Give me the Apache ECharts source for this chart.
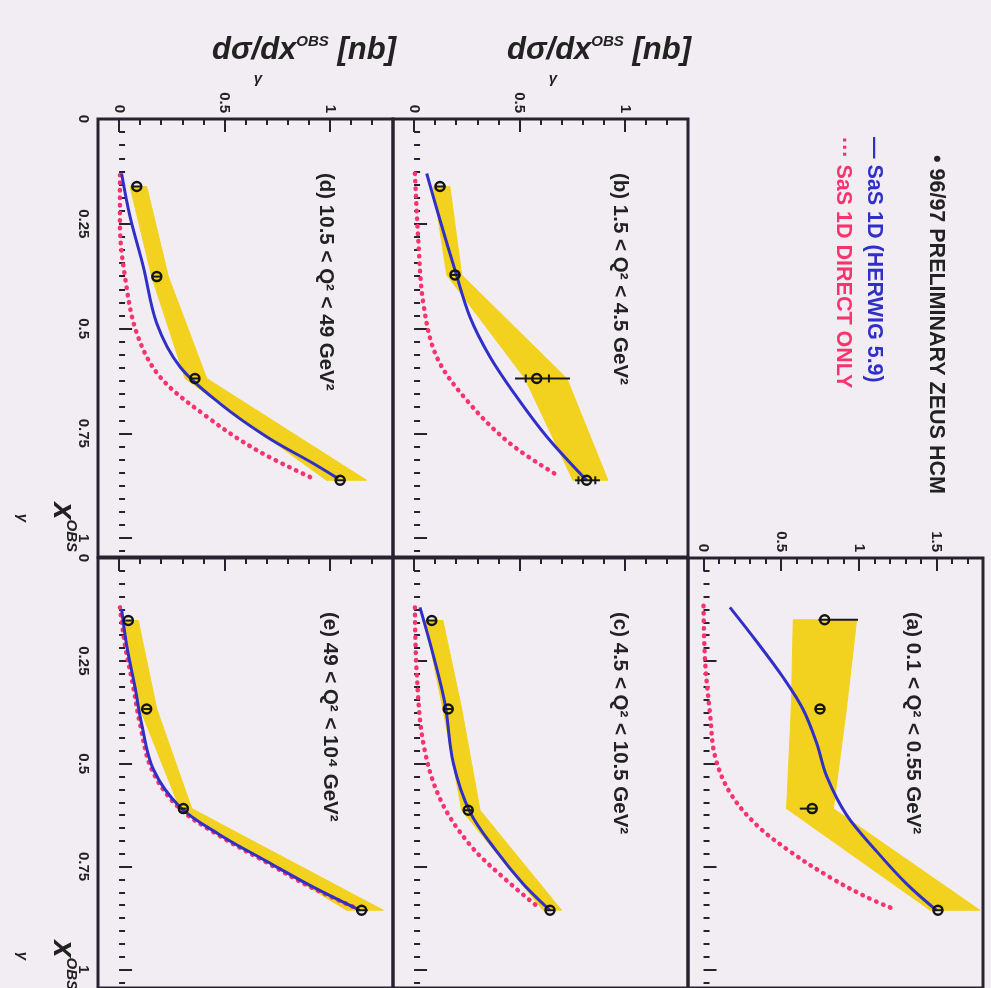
<!DOCTYPE html>
<html><head><meta charset="utf-8">
<script src="https://cdn.jsdelivr.net/npm/echarts@6/dist/echarts.min.js"></script>
<style>html,body{margin:0;padding:0;background:#f2edf3}#c{width:991px;height:988px}</style>
</head><body><div id="c"></div>
<script>
// ---------- data (x_gamma^OBS positions, dsigma/dx values in nb) ----------
// panel (a) 0.1 < Q2 < 0.55
const aXg = [0.150, 0.367, 0.609, 0.856];
const aVal = [0.78, 0.75, 0.70, 1.51];
const aErrLo = [0.74, 0.72, 0.62, 1.48];
const aErrHi = [0.995, 0.78, 0.73, 1.54];
const aSysLo = [0.578, 0.565, 0.535, 1.46];
const aSysHi = [0.986, 0.92, 0.836, 1.78];
const aHerXg = [0.12, 0.203, 0.291, 0.367, 0.45, 0.53, 0.625, 0.713, 0.792, 0.856];
const aHer = [0.17, 0.342, 0.514, 0.64, 0.729, 0.793, 0.922, 1.115, 1.308, 1.50];
const aDirXg = [0.116, 0.251, 0.379, 0.482, 0.57, 0.649, 0.713, 0.776, 0.824, 0.856];
const aDir = [0.0, 0.01, 0.042, 0.074, 0.17, 0.342, 0.557, 0.814, 1.05, 1.244];
// panel (b) 1.5 < Q2 < 4.5
const bXg = [0.161, 0.372, 0.619, 0.862];
const bVal = [0.123, 0.194, 0.582, 0.819];
const bErrLo = [0.10, 0.17, 0.479, 0.764];
const bErrHi = [0.15, 0.22, 0.74, 0.882];
const bStatLo = [null, null, 0.53, 0.78];
const bStatHi = [null, null, 0.64, 0.86];
const bSysLo = [0.091, 0.155, 0.526, 0.754];
const bSysHi = [0.17, 0.226, 0.725, 0.92];
const bHerXg = [0.13, 0.241, 0.36, 0.472, 0.567, 0.663, 0.758, 0.862];
const bHer = [0.06, 0.123, 0.194, 0.265, 0.36, 0.487, 0.63, 0.819];
const bDirXg = [0.13, 0.289, 0.44, 0.567, 0.671, 0.774, 0.854];
const bDir = [0.004, 0.02, 0.044, 0.107, 0.25, 0.455, 0.693];
// panel (c) 4.5 < Q2 < 10.5
const cXg = [0.152, 0.367, 0.613, 0.856];
const cVal = [0.084, 0.162, 0.257, 0.645];
const cErrLo = [0.065, 0.145, 0.24, 0.625];
const cErrHi = [0.10, 0.18, 0.275, 0.665];
const cSysLo = [0.052, 0.137, 0.226, 0.612];
const cSysHi = [0.137, 0.226, 0.313, 0.70];
const cHerXg = [0.12, 0.236, 0.355, 0.498, 0.617, 0.713, 0.792, 0.856];
const cHer = [0.028, 0.091, 0.147, 0.186, 0.265, 0.392, 0.518, 0.645];
const cDirXg = [0.12, 0.275, 0.45, 0.585, 0.697, 0.784, 0.852];
const cDir = [0.004, 0.012, 0.044, 0.123, 0.265, 0.44, 0.598];
// panel (d) 10.5 < Q2 < 49
const dXg = [0.161, 0.376, 0.619, 0.862];
const dVal = [0.084, 0.179, 0.36, 1.049];
const dErrLo = [0.065, 0.16, 0.34, 1.025];
const dErrHi = [0.10, 0.20, 0.38, 1.075];
const dSysLo = [0.052, 0.155, 0.313, 0.985];
const dSysHi = [0.131, 0.234, 0.416, 1.175];
const dHerXg = [0.13, 0.233, 0.352, 0.488, 0.591, 0.679, 0.758, 0.822, 0.858];
const dHer = [0.012, 0.052, 0.115, 0.179, 0.289, 0.479, 0.70, 0.922, 1.04];
const dDirXg = [0.134, 0.249, 0.376, 0.511, 0.615, 0.71, 0.79, 0.858];
const dDir = [0.004, 0.004, 0.028, 0.084, 0.194, 0.416, 0.653, 0.922];
// panel (e) 49 < Q2 < 10^4
const eXg = [0.152, 0.367, 0.609, 0.856];
const eVal = [0.044, 0.131, 0.305, 1.151];
const eErrLo = [0.03, 0.115, 0.29, 1.125];
const eErrHi = [0.06, 0.15, 0.32, 1.18];
const eSysLo = [0.02, 0.10, 0.289, 1.08];
const eSysHi = [0.091, 0.179, 0.345, 1.254];
const eHerXg = [0.124, 0.212, 0.315, 0.403, 0.514, 0.605, 0.673, 0.737, 0.80, 0.856];
const eHer = [0.012, 0.036, 0.076, 0.107, 0.163, 0.289, 0.479, 0.70, 0.922, 1.143];
const eDirXg = [0.12, 0.212, 0.315, 0.403, 0.514, 0.605, 0.673, 0.737, 0.80, 0.852];
const eDir = [0.004, 0.028, 0.068, 0.099, 0.155, 0.28, 0.47, 0.69, 0.91, 1.13];

// tick labels
const sigmaTickLabels = ['0', '0.5', '1', '1.5'];
const xgTickLabels = ['0', '0.25', '0.5', '0.75', '1'];
const panelLabels = {
  a: '(a) 0.1 < Q\u00B2 < 0.55 GeV\u00B2',
  b: '(b) 1.5 < Q\u00B2 < 4.5 GeV\u00B2',
  c: '(c) 4.5 < Q\u00B2 < 10.5 GeV\u00B2',
  d: '(d) 10.5 < Q\u00B2 < 49 GeV\u00B2',
  e: '(e) 49 < Q\u00B2 < 10\u2074 GeV\u00B2'
};
const legendData = '96/97 PRELIMINARY ZEUS HCM';
const legendHer = 'SaS 1D (HERWIG 5.9)';
const legendDir = 'SaS 1D DIRECT ONLY';

// ---------- styling / layout ----------
const FONT = '"Liberation Sans", Arial, Helvetica, sans-serif';
const INK = '#282230';
const YELLOW = '#f3d21f';
const BLUE = '#3030c8';
const RED = '#f8336e';
const PW = 295, PH = 438;
const COL = [98, 393, 688];
const ROW = [119, 558];

const panels = [
  {k:'a', col:2, row:1, xMax:1.8, xg:aXg, v:aVal, lo:aErrLo, hi:aErrHi, slo:null, shi:null, sl:aSysLo, sh:aSysHi, hx:aHerXg, h:aHer, dx:aDirXg, d:aDir, showX:true, showY:false, lx:913, major:[0,0.5,1,1.5]},
  {k:'b', col:1, row:0, xMax:1.3, xg:bXg, v:bVal, lo:bErrLo, hi:bErrHi, slo:bStatLo, shi:bStatHi, sl:bSysLo, sh:bSysHi, hx:bHerXg, h:bHer, dx:bDirXg, d:bDir, showX:true, showY:false, lx:620, major:[0,0.5,1]},
  {k:'c', col:1, row:1, xMax:1.3, xg:cXg, v:cVal, lo:cErrLo, hi:cErrHi, slo:null, shi:null, sl:cSysLo, sh:cSysHi, hx:cHerXg, h:cHer, dx:cDirXg, d:cDir, showX:false, showY:false, lx:620, major:[0,0.5,1]},
  {k:'d', col:0, row:0, xMax:1.3, xg:dXg, v:dVal, lo:dErrLo, hi:dErrHi, slo:null, shi:null, sl:dSysLo, sh:dSysHi, hx:dHerXg, h:dHer, dx:dDirXg, d:dDir, showX:true, showY:true, lx:326, major:[0,0.5,1]},
  {k:'e', col:0, row:1, xMax:1.3, xg:eXg, v:eVal, lo:eErrLo, hi:eErrHi, slo:null, shi:null, sl:eSysLo, sh:eSysHi, hx:eHerXg, h:eHer, dx:eDirXg, d:eDir, showX:false, showY:true, lx:330, major:[0,0.5,1]}
];

const labelFont = {fontFamily: FONT, fontWeight: 'bold', fontSize: 15, color: '#222'};
function fmtSigma(v) {
  const r = Math.round(v * 10) / 10;
  const i = [0, 0.5, 1, 1.5].indexOf(Math.abs(r) < 1e-9 ? 0 : r);
  return i >= 0 ? sigmaTickLabels[i] : '';
}
function fmtXg(v) {
  const r = Math.round(v * 1000) / 1000;
  const i = [0, 0.25, 0.5, 0.75, 1].indexOf(r);
  return i >= 0 ? xgTickLabels[i] : '';
}

const grids = [], xAxes = [], yAxes = [], series = [], graphics = [];
panels.forEach((p, i) => {
  const left = COL[p.col], top = ROW[p.row];
  grids.push({left: left, top: top, width: PW, height: PH, show: true, borderColor: INK, borderWidth: 3, backgroundColor: 'transparent'});
  // minor ticks + labels
  xAxes.push({gridIndex: i, type: 'value', min: -0.1, max: p.xMax, interval: 0.1, position: 'top',
    axisLine: {show: false}, splitLine: {show: false},
    axisTick: {show: true, inside: true, length: 6, lineStyle: {color: INK, width: 2}},
    axisLabel: Object.assign({show: p.showX, rotate: -90, margin: 6, interval: 0, formatter: fmtSigma, showMinLabel: false, showMaxLabel: false}, labelFont)});
  // major ticks
  xAxes.push({gridIndex: i, type: 'value', min: -0.1, max: p.xMax, position: 'top',
    axisLine: {show: false}, splitLine: {show: false},
    axisTick: {show: true, inside: true, length: 13, customValues: p.major, lineStyle: {color: INK, width: 2}},
    axisLabel: {show: false, customValues: p.major}});
  yAxes.push({gridIndex: i, type: 'value', min: 0, max: 1.045, interval: 0.25, inverse: true, position: 'left',
    axisLine: {show: false}, splitLine: {show: false},
    axisTick: {show: true, inside: true, length: 13, lineStyle: {color: INK, width: 2}},
    minorTick: {show: true, splitNumber: 8, length: 6, lineStyle: {color: INK, width: 2}},
    axisLabel: Object.assign({show: p.showY, rotate: -90, margin: 7, interval: 0, formatter: fmtXg, showMaxLabel: false}, labelFont)});

  const xi = 2 * i;
  // systematic band
  const bandData = [];
  for (let j = 0; j < p.xg.length - 1; j++) bandData.push([p.xg[j], p.sl[j], p.sh[j], p.xg[j+1], p.sl[j+1], p.sh[j+1]]);
  series.push({type: 'custom', xAxisIndex: xi, yAxisIndex: i, z: 1, silent: true,
    encode: {x: [1, 2, 4, 5], y: [0, 3]}, data: bandData,
    renderItem: (params, api) => {
      const pts = [api.coord([api.value(1), api.value(0)]), api.coord([api.value(2), api.value(0)]),
                   api.coord([api.value(5), api.value(3)]), api.coord([api.value(4), api.value(3)])];
      return {type: 'polygon', shape: {points: pts}, style: {fill: YELLOW, stroke: YELLOW, lineWidth: 1}};
    }});
  // direct only (dotted)
  series.push({type: 'line', xAxisIndex: xi, yAxisIndex: i, z: 3, smooth: 0.35, showSymbol: false, silent: true,
    data: p.d.map((v, j) => [v, p.dx[j]]),
    lineStyle: {color: RED, width: 4.5, type: [0.5, 7], cap: 'round'}});
  // HERWIG
  series.push({type: 'line', xAxisIndex: xi, yAxisIndex: i, z: 4, smooth: 0.35, showSymbol: false, silent: true,
    data: p.h.map((v, j) => [v, p.hx[j]]),
    lineStyle: {color: BLUE, width: 3}});
  // error bars
  series.push({type: 'custom', xAxisIndex: xi, yAxisIndex: i, z: 5, silent: true,
    encode: {x: [1, 2], y: 0},
    data: p.xg.map((x, j) => [x, p.lo[j], p.hi[j], p.slo ? p.slo[j] : null, p.shi ? p.shi[j] : null]),
    renderItem: (params, api) => {
      const a = api.coord([api.value(1), api.value(0)]);
      const b = api.coord([api.value(2), api.value(0)]);
      const ch = [{type: 'line', shape: {x1: a[0], y1: a[1], x2: b[0], y2: b[1]}, style: {stroke: '#1a1a1a', lineWidth: 2}}];
      [3, 4].forEach(d => {
        const val = api.value(d);
        if (val !== null && !isNaN(val)) {
          const c = api.coord([val, api.value(0)]);
          ch.push({type: 'line', shape: {x1: c[0], y1: c[1] - 4, x2: c[0], y2: c[1] + 4}, style: {stroke: '#1a1a1a', lineWidth: 2}});
        }
      });
      return {type: 'group', children: ch};
    }});
  // data points
  series.push({type: 'scatter', xAxisIndex: xi, yAxisIndex: i, z: 6, silent: true, symbol: 'circle', symbolSize: 9,
    data: p.v.map((v, j) => [v, p.xg[j]]),
    itemStyle: {color: 'rgba(0,0,0,0)', borderColor: '#141414', borderWidth: 2.5, opacity: 1}});

  // panel label
  graphics.push({type: 'text', x: p.lx, y: top + 54, rotation: -Math.PI / 2,
    style: {text: panelLabels[p.k], fontFamily: FONT, fontWeight: 'bold', fontSize: 20.5, fill: '#222', textAlign: 'left', textVerticalAlign: 'middle'}});
});

// axis titles dsigma/dx
const titleRich = {
  m: {fontFamily: FONT, fontWeight: 'bold', fontStyle: 'italic', fontSize: 31, fill: '#222'},
  s: {fontFamily: FONT, fontWeight: 'bold', fontStyle: 'italic', fontSize: 15, fill: '#222', verticalAlign: 'top'}
};
[COL[0] + PW, COL[1] + PW].forEach(r => {
  graphics.push({type: 'text', x: r + 3, y: 50, style: {text: '{m|d\u03C3/dx}{s|OBS}{m| [nb]}', rich: titleRich, textAlign: 'right', textVerticalAlign: 'middle'}});
  graphics.push({type: 'text', x: r - 135, y: 79, style: {text: '\u03B3', fontFamily: FONT, fontWeight: 'bold', fontStyle: 'italic', fontSize: 15, fill: '#222', textAlign: 'center', textVerticalAlign: 'middle'}});
});
// axis titles x_gamma
[ROW[0] + 433, ROW[1] + 432].forEach(e => {
  graphics.push({type: 'text', x: 63, y: e, rotation: -Math.PI / 2, style: {text: '{m|x}{s|OBS}', rich: titleRich, textAlign: 'right', textVerticalAlign: 'middle'}});
  graphics.push({type: 'text', x: 22, y: e - 34, rotation: -Math.PI / 2, style: {text: '\u03B3', fontFamily: FONT, fontWeight: 'bold', fontStyle: 'italic', fontSize: 15, fill: '#222', textAlign: 'center', textVerticalAlign: 'middle'}});
});
// legend
const legFont = {fontFamily: FONT, fontWeight: 'bold', fontSize: 21.5, textAlign: 'left', textVerticalAlign: 'middle'};
graphics.push({type: 'text', x: 936, y: 155, rotation: -Math.PI / 2, style: Object.assign({text: '\u2022 ' + legendData, fill: '#222'}, legFont)});
graphics.push({type: 'text', x: 874, y: 137, rotation: -Math.PI / 2, style: Object.assign({text: '\u2014 ' + legendHer, fill: BLUE}, legFont)});
graphics.push({type: 'text', x: 843, y: 137, rotation: -Math.PI / 2, style: Object.assign({text: '\u00B7\u00B7\u00B7 ' + legendDir, fill: RED}, legFont)});

const chart = echarts.init(document.getElementById('c'));
chart.setOption({
  backgroundColor: '#f2edf3',
  animation: false,
  grid: grids, xAxis: xAxes, yAxis: yAxes, series: series, graphic: graphics
});
</script></body></html>
